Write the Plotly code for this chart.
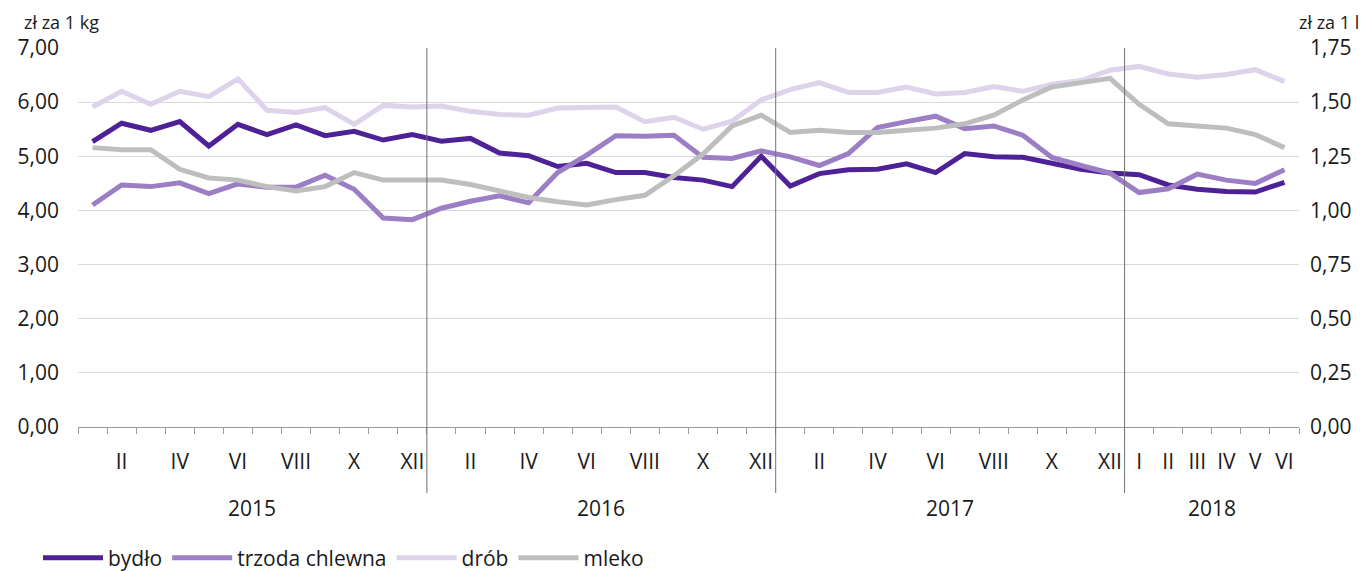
import plotly.graph_objects as go

months = list(range(42))
bydlo = [5.27, 5.61, 5.48, 5.64, 5.19, 5.59, 5.40, 5.58, 5.38, 5.46, 5.30, 5.40,
         5.28, 5.33, 5.06, 5.01, 4.81, 4.87, 4.70, 4.70, 4.61, 4.56, 4.44, 5.00,
         4.45, 4.68, 4.75, 4.76, 4.86, 4.70, 5.05, 4.99, 4.98, 4.87, 4.76, 4.69,
         4.66, 4.47, 4.39, 4.35, 4.34, 4.52]
trzoda = [4.10, 4.47, 4.44, 4.51, 4.31, 4.49, 4.43, 4.43, 4.65, 4.39, 3.86, 3.83,
          4.04, 4.17, 4.27, 4.14, 4.70, 5.02, 5.38, 5.37, 5.39, 4.98, 4.96, 5.10,
          4.99, 4.83, 5.05, 5.53, 5.64, 5.74, 5.51, 5.56, 5.39, 4.98, 4.83, 4.69,
          4.33, 4.40, 4.67, 4.56, 4.50, 4.75]
drob = [5.91, 6.20, 5.96, 6.20, 6.10, 6.43, 5.85, 5.81, 5.90, 5.59, 5.94, 5.91,
        5.93, 5.83, 5.77, 5.76, 5.89, 5.91, 5.91, 5.64, 5.72, 5.50, 5.65, 6.04,
        6.23, 6.36, 6.18, 6.18, 6.28, 6.15, 6.18, 6.29, 6.20, 6.33, 6.40, 6.59,
        6.66, 6.52, 6.46, 6.51, 6.60, 6.38]
mleko = [1.29, 1.28, 1.28, 1.19, 1.15, 1.14, 1.11, 1.09, 1.11, 1.175, 1.14, 1.14,
         1.14, 1.12, 1.09, 1.06, 1.04, 1.025, 1.05, 1.07, 1.16, 1.26, 1.39, 1.44,
         1.36, 1.37, 1.36, 1.36, 1.37, 1.38, 1.40, 1.44, 1.51, 1.57, 1.59, 1.61,
         1.49, 1.40, 1.39, 1.38, 1.35, 1.29]

label_pos = [1, 3, 5, 7, 9, 11, 13, 15, 17, 19, 21, 23, 25, 27, 29, 31, 33, 35,
             36, 37, 38, 39, 40, 41]
label_text = ["II", "IV", "VI", "VIII", "X", "XII"] * 3 + ["I", "II", "III", "IV", "V", "VI"]
years = ["2015", "2016", "2017", "2018"]
year_pos = [5.5, 17.5, 29.5, 38.5]
year_bounds = [11.5, 23.5, 35.5]

FONT = "Open Sans"
TXT = "#1a1a1a"
FS = 21

W, H = 1367, 571
ML, MR, MT, MB = 78, 68, 48, 144
PW, PH = W - ML - MR, H - MT - MB


def px(x):
    return (x - ML) / PW


def py(y):
    return (H - MB - y) / PH


fig = go.Figure()
fig.add_trace(go.Scatter(x=months, y=bydlo, name="bydło", mode="lines",
                         line=dict(color="#4E2296", width=5)))
fig.add_trace(go.Scatter(x=months, y=trzoda, name="trzoda chlewna", mode="lines",
                         line=dict(color="#9B7EC4", width=5)))
fig.add_trace(go.Scatter(x=months, y=drob, name="drób", mode="lines",
                         line=dict(color="#DDD3EB", width=5)))
fig.add_trace(go.Scatter(x=months, y=mleko, name="mleko", mode="lines", yaxis="y2",
                         line=dict(color="#BEBEBE", width=5)))

for b in year_bounds:
    fig.add_shape(type="line", xref="x", yref="paper", x0=b, x1=b, y0=py(493), y1=1,
                  line=dict(color="#707070", width=1), layer="above")

for yr, xp in zip(years, year_pos):
    fig.add_annotation(text=yr, x=xp, xref="x", y=py(508), yref="paper",
                       showarrow=False, yanchor="middle",
                       font=dict(family=FONT, size=FS, color=TXT))

fig.add_annotation(text="zł za 1 kg", x=px(22), xref="paper", y=py(22),
                   yref="paper", xanchor="left", yanchor="middle", showarrow=False,
                   font=dict(family=FONT, size=18, color=TXT))
fig.add_annotation(text="zł za 1 l", x=px(1361), xref="paper", y=py(22),
                   yref="paper", xanchor="right", yanchor="middle", showarrow=False,
                   font=dict(family=FONT, size=18, color=TXT))

fig.update_layout(
    width=W, height=H,
    margin=dict(l=ML, r=MR, t=MT, b=MB, autoexpand=False),
    paper_bgcolor="white", plot_bgcolor="white",
    separators=", ",
    font=dict(family=FONT, size=FS, color=TXT),
    showlegend=True,
    legend=dict(orientation="h", x=px(38), xanchor="left", y=py(558), yanchor="middle",
                font=dict(family=FONT, size=21, color=TXT), itemwidth=60,
                tracegroupgap=0),
    xaxis=dict(range=[-0.5, 41.5], tickmode="array", tickvals=label_pos,
               ticktext=label_text, ticks="outside", ticklen=16, automargin=False,
               tickcolor="rgba(0,0,0,0)", showgrid=False, zeroline=False,
               showline=True, linecolor="#999999", linewidth=1,
               tickfont=dict(family=FONT, size=FS, color=TXT),
               minor=dict(tickmode="array", tickvals=[k - 0.5 for k in range(43)],
                          ticks="outside", ticklen=6, tickcolor="#999999",
                          showgrid=False)),
    yaxis=dict(range=[0, 7], dtick=1, tickformat=".2f", showgrid=True,
               gridcolor="#d9d9d9", gridwidth=1, zeroline=False, automargin=False,
               ticks="", ticklabelstandoff=18,
               tickfont=dict(family=FONT, size=FS, color=TXT)),
    yaxis2=dict(range=[0, 1.75], dtick=0.25, tickformat=".2f", overlaying="y",
                side="right", showgrid=False, zeroline=False, ticks="", automargin=False,
                ticklabelstandoff=10,
                tickfont=dict(family=FONT, size=FS, color=TXT)),
)

fig.write_html("out.html", config={"displayModeBar": False},
               post_script="document.body.style.margin='0px';"
                           "document.body.style.overflow='hidden';")
